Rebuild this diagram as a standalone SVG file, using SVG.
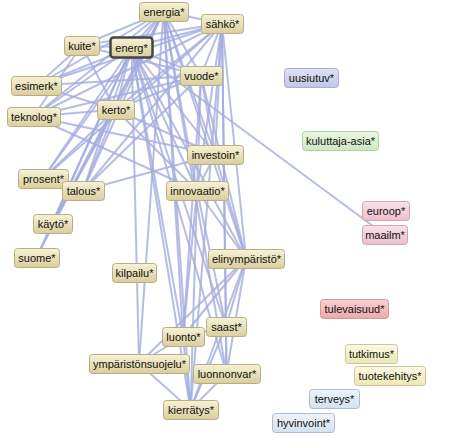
<svg xmlns="http://www.w3.org/2000/svg" width="460" height="436" viewBox="0 0 460 436">
<defs>
<linearGradient id="gTan" x1="0" y1="0" x2="0" y2="1"><stop offset="0" stop-color="#f6f2d6"/><stop offset="1" stop-color="#d9ce9c"/></linearGradient>
<linearGradient id="gBlue" x1="0" y1="0" x2="0" y2="1"><stop offset="0" stop-color="#e0e3f5"/><stop offset="1" stop-color="#c0c6e6"/></linearGradient>
<linearGradient id="gGreen" x1="0" y1="0" x2="0" y2="1"><stop offset="0" stop-color="#ebf7e4"/><stop offset="1" stop-color="#cce8be"/></linearGradient>
<linearGradient id="gPink" x1="0" y1="0" x2="0" y2="1"><stop offset="0" stop-color="#f9e2e9"/><stop offset="1" stop-color="#ecbfcd"/></linearGradient>
<linearGradient id="gRed" x1="0" y1="0" x2="0" y2="1"><stop offset="0" stop-color="#f9d2d2"/><stop offset="1" stop-color="#eca9a9"/></linearGradient>
<linearGradient id="gYel" x1="0" y1="0" x2="0" y2="1"><stop offset="0" stop-color="#fcfae4"/><stop offset="1" stop-color="#ede7b4"/></linearGradient>
<linearGradient id="gSky" x1="0" y1="0" x2="0" y2="1"><stop offset="0" stop-color="#eef4fb"/><stop offset="1" stop-color="#d3e1f0"/></linearGradient>
</defs>
<style>
.e line{stroke:#a3addf;stroke-width:2;stroke-opacity:0.8;fill:none}
rect{rx:3;ry:3;stroke-width:1}
.tan{fill:url(#gTan);stroke:#b9ae82}
.blue{fill:url(#gBlue);stroke:#a9aed2}
.green{fill:url(#gGreen);stroke:#aed2a0}
.pink{fill:url(#gPink);stroke:#d2a2b2}
.red{fill:url(#gRed);stroke:#d29a9a}
.yel{fill:url(#gYel);stroke:#cdc69c}
.sky{fill:url(#gSky);stroke:#abbdd3}
.focus{fill:url(#gTan);stroke:#444;stroke-width:2.5}
text{font-family:"Liberation Sans",Arial,sans-serif;font-size:11px;fill:#111;text-anchor:middle}
</style>
<g class="e" id="connectors">
<line x1="131.5" y1="47.5" x2="163.5" y2="11.5"/>
<line x1="131.5" y1="47.5" x2="222" y2="23.5"/>
<line x1="131.5" y1="47.5" x2="81.5" y2="45.5"/>
<line x1="131.5" y1="47.5" x2="36.5" y2="85.5"/>
<line x1="131.5" y1="47.5" x2="33.5" y2="116.5"/>
<line x1="131.5" y1="47.5" x2="115.5" y2="109.5"/>
<line x1="131.5" y1="47.5" x2="201" y2="75.5"/>
<line x1="131.5" y1="47.5" x2="215" y2="154.5"/>
<line x1="131.5" y1="47.5" x2="43" y2="178.5"/>
<line x1="131.5" y1="47.5" x2="83" y2="190.5"/>
<line x1="131.5" y1="47.5" x2="197" y2="190.5"/>
<line x1="131.5" y1="47.5" x2="52.5" y2="223.5"/>
<line x1="131.5" y1="47.5" x2="36.5" y2="257.5"/>
<line x1="131.5" y1="47.5" x2="246" y2="258.5"/>
<line x1="131.5" y1="47.5" x2="183" y2="336.5"/>
<line x1="131.5" y1="47.5" x2="139" y2="363.5"/>
<line x1="131.5" y1="47.5" x2="190.5" y2="409.5"/>
<line x1="131.5" y1="47.5" x2="226" y2="326.5"/>
<line x1="131.5" y1="47.5" x2="226.5" y2="373.5"/>
<line x1="131.5" y1="47.5" x2="384.5" y2="234.5"/>
<line x1="163.5" y1="11.5" x2="222" y2="23.5"/>
<line x1="163.5" y1="11.5" x2="81.5" y2="45.5"/>
<line x1="163.5" y1="11.5" x2="36.5" y2="85.5"/>
<line x1="163.5" y1="11.5" x2="33.5" y2="116.5"/>
<line x1="163.5" y1="11.5" x2="115.5" y2="109.5"/>
<line x1="163.5" y1="11.5" x2="201" y2="75.5"/>
<line x1="163.5" y1="11.5" x2="215" y2="154.5"/>
<line x1="163.5" y1="11.5" x2="43" y2="178.5"/>
<line x1="163.5" y1="11.5" x2="83" y2="190.5"/>
<line x1="163.5" y1="11.5" x2="197" y2="190.5"/>
<line x1="163.5" y1="11.5" x2="52.5" y2="223.5"/>
<line x1="163.5" y1="11.5" x2="36.5" y2="257.5"/>
<line x1="163.5" y1="11.5" x2="246" y2="258.5"/>
<line x1="163.5" y1="11.5" x2="183" y2="336.5"/>
<line x1="163.5" y1="11.5" x2="139" y2="363.5"/>
<line x1="163.5" y1="11.5" x2="190.5" y2="409.5"/>
<line x1="163.5" y1="11.5" x2="226.5" y2="373.5"/>
<line x1="222" y1="23.5" x2="81.5" y2="45.5"/>
<line x1="222" y1="23.5" x2="36.5" y2="85.5"/>
<line x1="222" y1="23.5" x2="33.5" y2="116.5"/>
<line x1="222" y1="23.5" x2="115.5" y2="109.5"/>
<line x1="222" y1="23.5" x2="201" y2="75.5"/>
<line x1="222" y1="23.5" x2="215" y2="154.5"/>
<line x1="222" y1="23.5" x2="43" y2="178.5"/>
<line x1="222" y1="23.5" x2="83" y2="190.5"/>
<line x1="222" y1="23.5" x2="197" y2="190.5"/>
<line x1="222" y1="23.5" x2="246" y2="258.5"/>
<line x1="222" y1="23.5" x2="226" y2="326.5"/>
<line x1="222" y1="23.5" x2="226.5" y2="373.5"/>
<line x1="222" y1="23.5" x2="190.5" y2="409.5"/>
<line x1="201" y1="75.5" x2="81.5" y2="45.5"/>
<line x1="201" y1="75.5" x2="36.5" y2="85.5"/>
<line x1="201" y1="75.5" x2="33.5" y2="116.5"/>
<line x1="201" y1="75.5" x2="115.5" y2="109.5"/>
<line x1="201" y1="75.5" x2="215" y2="154.5"/>
<line x1="201" y1="75.5" x2="83" y2="190.5"/>
<line x1="201" y1="75.5" x2="197" y2="190.5"/>
<line x1="201" y1="75.5" x2="246" y2="258.5"/>
<line x1="201" y1="75.5" x2="183" y2="336.5"/>
<line x1="115.5" y1="109.5" x2="36.5" y2="85.5"/>
<line x1="115.5" y1="109.5" x2="33.5" y2="116.5"/>
<line x1="115.5" y1="109.5" x2="43" y2="178.5"/>
<line x1="115.5" y1="109.5" x2="83" y2="190.5"/>
<line x1="115.5" y1="109.5" x2="215" y2="154.5"/>
<line x1="115.5" y1="109.5" x2="197" y2="190.5"/>
<line x1="115.5" y1="109.5" x2="52.5" y2="223.5"/>
<line x1="81.5" y1="45.5" x2="36.5" y2="85.5"/>
<line x1="81.5" y1="45.5" x2="33.5" y2="116.5"/>
<line x1="81.5" y1="45.5" x2="115.5" y2="109.5"/>
<line x1="33.5" y1="116.5" x2="215" y2="154.5"/>
<line x1="33.5" y1="116.5" x2="197" y2="190.5"/>
<line x1="197" y1="190.5" x2="215" y2="154.5"/>
<line x1="197" y1="190.5" x2="246" y2="258.5"/>
<line x1="197" y1="190.5" x2="183" y2="336.5"/>
<line x1="197" y1="190.5" x2="226" y2="326.5"/>
<line x1="197" y1="190.5" x2="190.5" y2="409.5"/>
<line x1="215" y1="154.5" x2="246" y2="258.5"/>
<line x1="215" y1="154.5" x2="83" y2="190.5"/>
<line x1="246" y1="258.5" x2="183" y2="336.5"/>
<line x1="246" y1="258.5" x2="139" y2="363.5"/>
<line x1="246" y1="258.5" x2="226" y2="326.5"/>
<line x1="246" y1="258.5" x2="190.5" y2="409.5"/>
<line x1="246" y1="258.5" x2="226.5" y2="373.5"/>
<line x1="183" y1="336.5" x2="139" y2="363.5"/>
<line x1="183" y1="336.5" x2="190.5" y2="409.5"/>
<line x1="183" y1="336.5" x2="226" y2="326.5"/>
<line x1="139" y1="363.5" x2="190.5" y2="409.5"/>
<line x1="190.5" y1="409.5" x2="226.5" y2="373.5"/>
<line x1="190.5" y1="409.5" x2="226" y2="326.5"/>
<line x1="226" y1="326.5" x2="226.5" y2="373.5"/>
</g>
<g id="n-energia"><rect class="tan" x="139.5" y="2.5" width="49" height="19"/><text x="164" y="16">energia*</text></g>
<g id="n-sahko"><rect class="tan" x="201.5" y="14.5" width="42" height="19"/><text x="222.5" y="28">sähkö*</text></g>
<g id="n-kuite"><rect class="tan" x="64.5" y="36.5" width="35" height="19"/><text x="82" y="50">kuite*</text></g>
<g id="n-energ"><rect class="focus" x="110.5" y="37.5" width="42" height="20"/><text x="131.5" y="51.5">energ*</text></g>
<g id="n-esimerk"><rect class="tan" x="11.5" y="76.5" width="50" height="19"/><text x="36.5" y="90">esimerk*</text></g>
<g id="n-vuode"><rect class="tan" x="180.5" y="66.5" width="42" height="19"/><text x="201.5" y="80">vuode*</text></g>
<g id="n-uusiutuv"><rect class="blue" x="284.5" y="68.5" width="54" height="19"/><text x="311.5" y="82">uusiutuv*</text></g>
<g id="n-teknolog"><rect class="tan" x="7.5" y="107.5" width="53" height="19"/><text x="34" y="121">teknolog*</text></g>
<g id="n-kerto"><rect class="tan" x="97.5" y="100.5" width="37" height="19"/><text x="116" y="114">kerto*</text></g>
<g id="n-kuluttaja"><rect class="green" x="302.5" y="131.5" width="76" height="19"/><text x="340.5" y="145">kuluttaja-asia*</text></g>
<g id="n-investoin"><rect class="tan" x="187.5" y="145.5" width="56" height="19"/><text x="215.5" y="159">investoin*</text></g>
<g id="n-prosent"><rect class="tan" x="18.5" y="169.5" width="50" height="19"/><text x="43.5" y="183">prosent*</text></g>
<g id="n-talous"><rect class="tan" x="62.5" y="181.5" width="42" height="19"/><text x="83.5" y="195">talous*</text></g>
<g id="n-innovaatio"><rect class="tan" x="166.5" y="181.5" width="62" height="19"/><text x="197.5" y="195">innovaatio*</text></g>
<g id="n-euroop"><rect class="pink" x="362.5" y="201.5" width="47" height="19"/><text x="386" y="215">euroop*</text></g>
<g id="n-kayto"><rect class="tan" x="33.5" y="214.5" width="39" height="19"/><text x="53" y="228">käytö*</text></g>
<g id="n-maailm"><rect class="pink" x="362.5" y="225.5" width="45" height="19"/><text x="385" y="239">maailm*</text></g>
<g id="n-suome"><rect class="tan" x="14.5" y="248.5" width="45" height="19"/><text x="37" y="262">suome*</text></g>
<g id="n-elinymparisto"><rect class="tan" x="208.5" y="249.5" width="76" height="19"/><text x="246.5" y="263">elinympäristö*</text></g>
<g id="n-kilpailu"><rect class="tan" x="112.5" y="263.5" width="44" height="19"/><text x="134.5" y="277">kilpailu*</text></g>
<g id="n-tulevaisuud"><rect class="red" x="320.5" y="299.5" width="68" height="19"/><text x="354.5" y="313">tulevaisuud*</text></g>
<g id="n-saast"><rect class="tan" x="206.5" y="317.5" width="40" height="19"/><text x="226.5" y="331">saast*</text></g>
<g id="n-luonto"><rect class="tan" x="162.5" y="327.5" width="42" height="19"/><text x="183.5" y="341">luonto*</text></g>
<g id="n-tutkimus"><rect class="yel" x="345.5" y="344.5" width="52" height="19"/><text x="371.5" y="358">tutkimus*</text></g>
<g id="n-ymparistonsuojelu"><rect class="tan" x="89.5" y="354.5" width="100" height="19"/><text x="139.5" y="368">ympäristönsuojelu*</text></g>
<g id="n-luonnonvar"><rect class="tan" x="193.5" y="364.5" width="67" height="19"/><text x="227" y="378">luonnonvar*</text></g>
<g id="n-tuotekehitys"><rect class="yel" x="354.5" y="366.5" width="71" height="19"/><text x="390" y="380">tuotekehitys*</text></g>
<g id="n-terveys"><rect class="sky" x="309.5" y="389.5" width="50" height="19"/><text x="334.5" y="403">terveys*</text></g>
<g id="n-kierratys"><rect class="tan" x="163.5" y="400.5" width="55" height="19"/><text x="191" y="414">kierrätys*</text></g>
<g id="n-hyvinvoint"><rect class="sky" x="272.5" y="413.5" width="62" height="19"/><text x="303.5" y="427">hyvinvoint*</text></g>
</svg>
